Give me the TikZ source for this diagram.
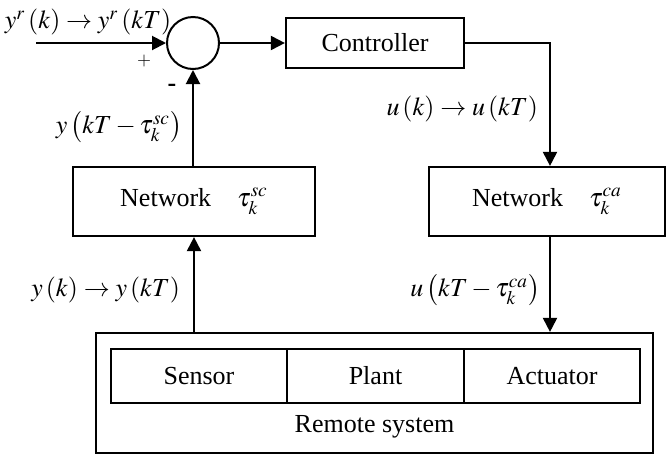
\documentclass[tikz,border=0pt]{standalone}
\usepackage{mathptmx}
\usepackage{fontspec}
\setmainfont{Liberation Serif}
\usetikzlibrary{arrows.meta,calc}

\begin{document}
\begin{tikzpicture}[x=0.5pt,y=-0.5pt,font=\fontsize{13}{15}\selectfont]
        \tikzset{sig/.style={-{Triangle[length=7pt, width=7pt]}, line width=1pt},
                 blk/.style={draw, line width=1.1pt, inner sep=0pt}}
        \useasboundingbox (0,0) rectangle (667,456);
        % loop: summing point and controller
        \node[blk, circle, line width=1pt, minimum size=26pt] (sum) at (193,43) {};
        \node[blk, minimum width=89pt, minimum height=25pt] (ctrl) at (375,43) {Controller};
        \coordinate (ref) at (36,43);
        \node at (88,22) {$y^{r}\,(k)\rightarrow y^{r}\,(kT)$};
        \node at (144,61) {\small $+$};
        \node at (172,88) {\textbf{-}};
        
        % the two networks
        \node[blk, minimum width=121pt, minimum height=34.5pt] (netsc) at (194,201.5) {Network\quad$\tau_k^{sc}$};
        \node[blk, minimum width=118pt, minimum height=34.5pt] (netca) at (547,201.5) {Network\quad$\tau_k^{ca}$};
        
        % remote system
        \node[blk, minimum width=278.5pt, minimum height=60pt] (remote) at (374.5,393) {};
        \node[blk, minimum width=88pt, minimum height=27pt] (sensor) at (199,376) {Sensor};
        \node[blk, minimum width=88.5pt, minimum height=27pt] (plant) at (375.5,376) {Plant};
        \node[blk, minimum width=88pt, minimum height=27pt] (act) at (552,376) {Actuator};
        \node at (374.5,427) {Remote system};
        
        % signals
        \draw[sig] (ref) -- (sum.west);
        \draw[sig] (sum.east) -- (ctrl.west);
        \draw[sig] (ctrl.east) -| ([xshift=1.5pt]netca.north);
        \draw[sig] ([xshift=1.5pt]netca.south) -- ([xshift=1.5pt]netca.south |- remote.north);
        \draw[sig] (netsc.south |- remote.north) -- (netsc.south);
        \draw[sig] (sum.south |- netsc.north) -- (sum.south);
        
        \node[anchor=east] at (545,109) {$u\left(k\right)\rightarrow u\left(kT\right)$};
        \node[anchor=east] at (547,290) {$u\left(kT-\tau_k^{ca}\right)$};
        \node[anchor=east] at (189,127) {$y\left(kT-\tau_k^{sc}\right)$};
        \node[anchor=east] at (187,290) {$y\left(k\right)\rightarrow y\left(kT\right)$};
\end{tikzpicture}
\end{document}
